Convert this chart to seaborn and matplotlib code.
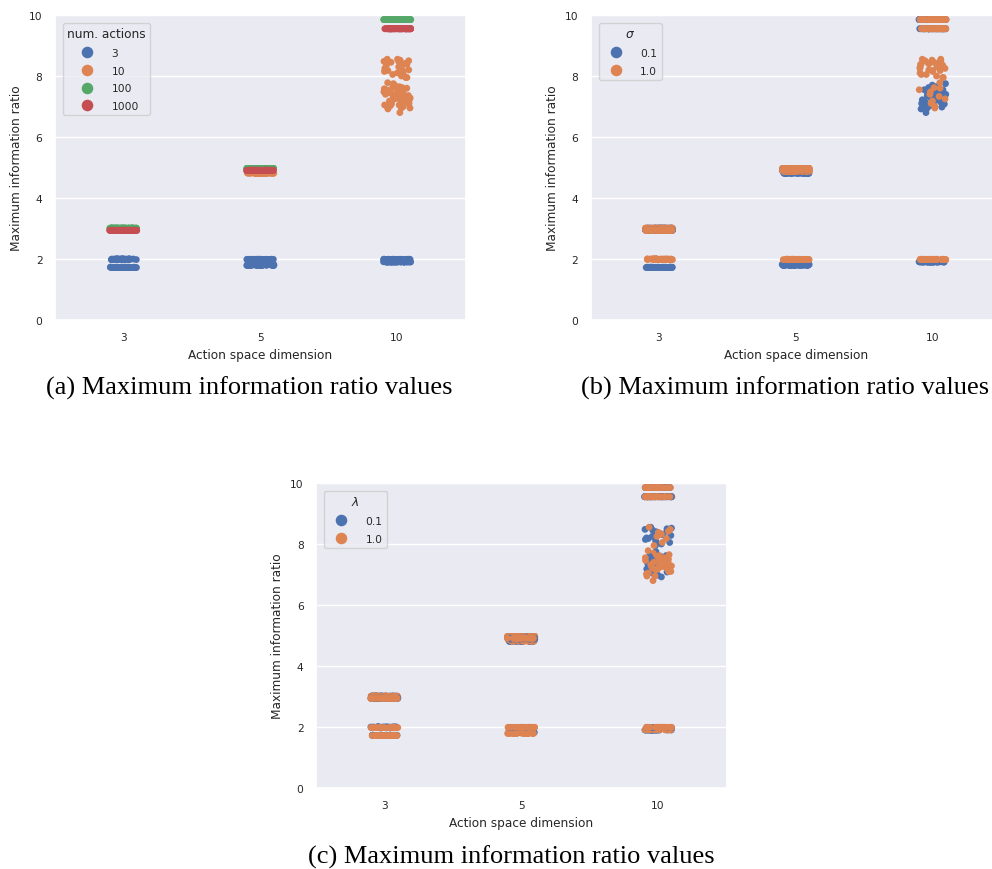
import numpy as np
import pandas as pd
import matplotlib
matplotlib.use("Agg")
import matplotlib.pyplot as plt
import seaborn as sns

# Experiment grid
dims = [3, 5, 10]
num_actions = [3, 10, 100, 1000]
sigmas = [0.1, 1.0]
lambdas = [0.1, 1.0]
n_seeds = 20

# Ratios that are flat across seeds, one per (sigma, lambda):
# order (0.1, 0.1), (0.1, 1.0), (1.0, 0.1), (1.0, 1.0)
dim3_n3 = [1.73, 1.72, 2.00, 1.98]
dim3_n10 = [2.95, 2.95, 2.96, 2.96]
dim3_n100 = [3.01, 3.01, 3.01, 3.01]
dim3_n1000 = [2.94, 2.94, 2.94, 2.94]
dim5_n3 = [1.82, 1.79, 1.98, 1.99]
dim5_n10 = [4.81, 4.82, 4.87, 4.88]
dim5_n100 = [4.97, 4.97, 4.97, 4.97]
dim5_n1000 = [4.90, 4.90, 4.91, 4.91]
dim10_n3 = [1.90, 1.91, 1.98, 1.99]
dim10_n100 = [9.85, 9.85, 9.85, 9.85]
dim10_n1000 = [9.55, 9.55, 9.55, 9.55]

# dim 10, 10 actions: ratios vary from seed to seed
dim10_n10_s01_l01 = [7.75, 7.62, 7.55, 7.48, 7.40, 7.35, 7.30, 7.22, 7.18, 7.12,
                     7.05, 6.98, 6.92, 7.45, 7.28, 7.60, 7.08, 7.38, 7.52, 7.15]
dim10_n10_s01_l10 = [7.70, 7.58, 7.50, 7.42, 7.36, 7.25, 7.20, 7.10, 7.02, 6.95,
                     6.80, 7.32, 7.46, 7.15, 7.28, 7.55, 7.05, 7.40, 7.22, 7.65]
dim10_n10_s10_l01 = [8.55, 8.50, 8.48, 8.45, 8.40, 8.38, 8.35, 8.30, 8.25, 8.20,
                     8.15, 8.10, 8.05, 8.00, 7.95, 8.42, 8.28, 8.52, 8.18, 7.60]
dim10_n10_s10_l10 = [8.55, 8.48, 8.42, 8.38, 8.32, 8.25, 8.18, 8.05, 7.95, 7.78,
                     7.62, 7.55, 7.48, 7.40, 7.33, 7.25, 7.18, 7.10, 7.00, 6.95]

flat = {
    (3, 3): dim3_n3, (3, 10): dim3_n10, (3, 100): dim3_n100, (3, 1000): dim3_n1000,
    (5, 3): dim5_n3, (5, 10): dim5_n10, (5, 100): dim5_n100, (5, 1000): dim5_n1000,
    (10, 3): dim10_n3, (10, 100): dim10_n100, (10, 1000): dim10_n1000,
}
spread = [dim10_n10_s01_l01, dim10_n10_s01_l10, dim10_n10_s10_l01, dim10_n10_s10_l10]

rows = []
for d in dims:
    for n in num_actions:
        k = 0
        for s in sigmas:
            for lam in lambdas:
                if (d, n) in flat:
                    vals = [flat[(d, n)][k]] * n_seeds
                else:
                    vals = spread[k]
                for v in vals:
                    rows.append({"dim": d, "num. actions": str(n),
                                 "sigma": f"{s:.1f}", "lam": f"{lam:.1f}",
                                 "ratio": v})
                k += 1
df = pd.DataFrame(rows)

sns.set_theme(style="darkgrid")
plt.rcParams["font.family"] = ["DejaVu Sans"]

fig = plt.figure(figsize=(9.92, 8.70), dpi=100)
W, H = 992, 870


def add_axes(left, top, width=410.5, height=305):
    return fig.add_axes([left / W, 1 - (top + height) / H, width / W, height / H])


panels = [
    (add_axes(55, 16), "num. actions", "num. actions", [str(n) for n in num_actions]),
    (add_axes(590.5, 16), "sigma", r"$\sigma$", ["0.1", "1.0"]),
    (add_axes(316, 484), "lam", r"$\lambda$", ["0.1", "1.0"]),
]

np.random.seed(3)
for ax, hue, title, order in panels:
    sns.stripplot(data=df, x="dim", y="ratio", hue=hue, hue_order=order,
                  palette="deep", size=4.9, jitter=True, ax=ax)
    ax.set_ylim(0, 10)
    ax.set_xlim(-0.5, 2.5)
    ax.set_xlabel("Action space dimension", fontsize=8.7)
    ax.set_ylabel("Maximum information ratio", fontsize=8.7)
    ax.tick_params(labelsize=7.7, pad=3)
    ax.legend(title=title, loc="upper left", fontsize=7.7,
              title_fontsize=8.7, markerscale=1.7, labelspacing=0.72,
              handlelength=2.4, handletextpad=1.1, borderaxespad=0.75)

captions = [
    ("(a) Maximum information ratio values", 249.5, 388),
    ("(b) Maximum information ratio values", 785.5, 388),
    ("(c) Maximum information ratio values", 511, 857),
]
for text, x, y in captions:
    fig.text(x / W, 1 - y / H, text, ha="center", va="center",
             family="Liberation Serif", fontsize=19, color="black")

fig.savefig("out.png", dpi=100)
